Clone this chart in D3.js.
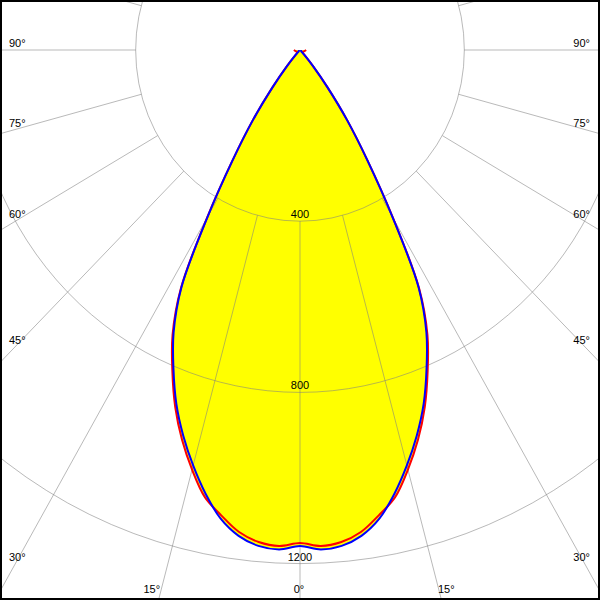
<!DOCTYPE html>
<html><head><meta charset="utf-8">
<script src="https://cdn.jsdelivr.net/npm/d3@7"></script>
<style>html,body{margin:0;padding:0;background:#fff;} svg{display:block;}</style>
</head><body>
<svg id="chart" width="600" height="600"></svg>
<script>
// ---- data ----
const gammaAngles = [0,2.5,5,7.5,10,12.5,15,17.5,20,22.5,25,27.5,30,32.5,35,37.5,40,42.5,45,50,60,70,80,90];
const blueValues  = [1159,1168,1163,1145,1112,1062,1005,945,880,805,728,625,450,305,200,110,50,15,5,3,3,3,3,3];
const redValues   = [1152,1160,1154,1136,1104,1070,1015,955,888,812,734,628,452,305,200,110,50,18,10,8,8,10,12,15];
const ringValues  = [400, 800, 1200];
const ringLabels  = ["400", "800", "1200"];
const gridAngles  = [0,15,30,45,60,75,90,105,120,135,150,165,180];
const angleLabelValues = [0,15,30,45,60,75,90];
const angleLabels = ["0°","15°","30°","45°","60°","75°","90°"];

// ---- layout ----
const W = 600, H = 600, cx = 300, cy = 50;
const rX = d3.scaleLinear().domain([0,1200]).range([0,493]);
const rY = d3.scaleLinear().domain([0,1200]).range([0,513.6]);
const rad = d => d*Math.PI/180;
const pt = (g, v, side) => [cx + side*rX(v)*Math.sin(rad(g)), cy + rY(v)*Math.cos(rad(g))];

const svg = d3.select("#chart");
svg.append("rect").attr("width",W).attr("height",H).attr("fill","#fff");
svg.append("clipPath").attr("id","clip").append("rect").attr("x",2).attr("y",2).attr("width",W-4).attr("height",H-4);
const g = svg.append("g").attr("clip-path","url(#clip)");

// curves
function curvePoints(vals){
  const left = gammaAngles.map((a,i)=>pt(a, vals[i], -1)).reverse();
  const right = gammaAngles.map((a,i)=>pt(a, vals[i], 1));
  return left.concat(right.slice(1));
}
const line = d3.line().curve(d3.curveCatmullRom.alpha(0.5));
const bluePts = curvePoints(blueValues), redPts = curvePoints(redValues);

g.append("path").attr("d", line(redPts)+"Z").attr("fill","#ffff00");
g.append("path").attr("d", line(bluePts)+"Z").attr("fill","#ffff00");

// grid
const grid = g.append("g").attr("stroke","#808080").attr("stroke-opacity",0.55).attr("fill","none").attr("stroke-width",1);
ringValues.forEach(v=>{
  grid.append("ellipse").attr("cx",cx).attr("cy",cy).attr("rx",rX(v)).attr("ry",rY(v));
});
gridAngles.forEach(a=>{
  [-1,1].forEach(s=>{
    if ((a===0||a===180) && s===1) return;
    const p0 = pt(a, ringValues[0], s), p1 = pt(a, 3000, s);
    grid.append("line").attr("x1",p0[0]).attr("y1",p0[1]).attr("x2",p1[0]).attr("y2",p1[1]);
  });
});

// outlines
g.append("path").attr("d", line(redPts)).attr("fill","none").attr("stroke","#ff0000").attr("stroke-width",2).attr("stroke-linejoin","round");
g.append("path").attr("d", line(bluePts)).attr("fill","none").attr("stroke","#0000ff").attr("stroke-width",2).attr("stroke-linejoin","round");

// text
const txt = svg.append("g").attr("font-family","'Liberation Sans', Arial, sans-serif").attr("font-size","11px").attr("fill","#000");
ringValues.forEach((v,i)=>{
  txt.append("text").attr("x",cx).attr("y",cy+rY(v)-3).attr("text-anchor","middle").text(ringLabels[i]);
});
angleLabelValues.forEach((a,i)=>{
  [-1,1].forEach(s=>{
    if (a===0 && s===1) return;
    const dx = Math.sin(rad(a))*rX(1), dy = Math.cos(rad(a))*rY(1);
    const tSide = dx>1e-9 ? (cx-0)/dx : Infinity;
    const tBot = dy>1e-9 ? (H-2-cy)/dy : Infinity;
    if (tSide < tBot){
      const ey = cy + dy*tSide;
      const by = Math.min(cy - 3 + 0.95*(ey-cy), 565);
      txt.append("text").attr("x", s<0 ? 9 : 590).attr("y", by).attr("text-anchor", s<0?"start":"end").text(angleLabels[i]);
    } else {
      const ex = cx + s*dx*tBot;
      const anchor = a===0 ? "middle" : (s<0 ? "end" : "start");
      const x = a===0 ? ex-1 : (s<0 ? ex+1 : ex-3);
      txt.append("text").attr("x", x).attr("y", 593).attr("text-anchor", anchor).text(angleLabels[i]);
    }
  });
});

// frame
svg.append("rect").attr("x",1).attr("y",1).attr("width",W-2).attr("height",H-2).attr("fill","none").attr("stroke","#000").attr("stroke-width",2);
</script>
</body></html>
